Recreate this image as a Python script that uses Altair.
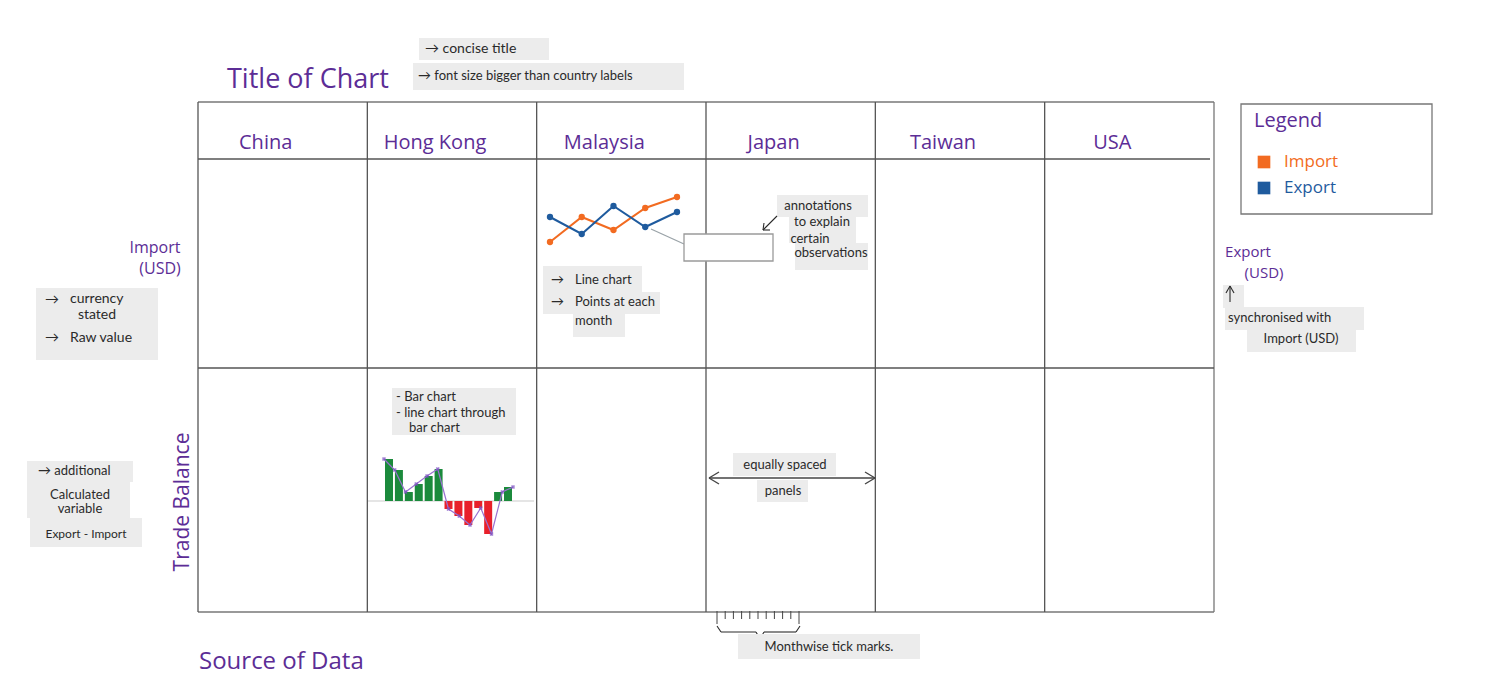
import altair as alt
import pandas as pd

# ---------------- data ----------------
COUNTRIES = ["China", "Hong Kong", "Malaysia", "Japan", "Taiwan", "USA"]
SERIES = ["Import", "Export"]
SERIES_COLORS = ["#f26b21", "#1f5b9e"]

MY_MONTHS = [1, 2, 3, 4, 5]
MY_IMPORT = [8, 33, 20, 42, 53]
MY_EXPORT = [33, 16, 44, 23, 38]

HK_MONTHS = list(range(1, 14))
HK_BALANCE = [42, 31, 9, 17, 25, 32, -8, -15, -24, -7, -33, 9, 14]

TICK_MONTHS = list(range(1, 12))

# ---------------- styles ----------------
PURPLE = "#5c2d96"
INK = "#2a2a2a"
NOTE_BG = "#ececec"
GRID = "#555555"
HAND = "Open Sans"
NOTE_FONT = "Lato"

layers = []


def box(x1, y1, x2, y2, fill=NOTE_BG, stroke=None):
    kw = dict(fill=fill)
    if stroke:
        kw.update(stroke=stroke, strokeWidth=1.3)
    return alt.Chart().mark_rect(**kw).encode(
        x=alt.value(x1), x2=alt.value(x2), y=alt.value(y1), y2=alt.value(y2))


def seg(x1, y1, x2, y2, color=GRID, w=1.3):
    return alt.Chart().mark_rule(color=color, strokeWidth=w).encode(
        x=alt.value(x1), x2=alt.value(x2), y=alt.value(y1), y2=alt.value(y2))


def label(s, x, y, size=13, color=INK, align="left", font=NOTE_FONT, angle=None):
    kw = dict(align=align, baseline="middle", fontSize=size, color=color, font=font)
    if angle is not None:
        kw["angle"] = angle
    return alt.Chart().mark_text(**kw).encode(
        x=alt.value(x), y=alt.value(y), text=alt.value(s))


# ---------------- grid ----------------
band = alt.Scale(type="band", domain=COUNTRIES, range=[198, 1214],
                 paddingInner=0, paddingOuter=0)
cdf = pd.DataFrame({"country": COUNTRIES})

layers += [
    seg(198, 102, 1214, 102, color="#777777"),
    seg(198, 612, 1214, 612, color="#777777"),
    seg(1214, 102, 1214, 612, color="#777777"),
    seg(198, 159, 1210, 159),
    seg(198, 368, 1214, 368),
    alt.Chart(cdf).mark_rule(color=GRID, strokeWidth=1.3).encode(
        x=alt.X("country:N", scale=band, axis=None, bandPosition=0),
        y=alt.value(102), y2=alt.value(612)),
    alt.Chart(cdf).mark_text(font=HAND, fontSize=20, color=PURPLE, dx=-17,
                             baseline="middle").encode(
        x=alt.X("country:N", scale=band, axis=None),
        y=alt.value(143), text="country:N"),
]

# ---------------- title / source ----------------
layers += [
    label("Title of Chart", 227, 80, size=27, color=PURPLE, font=HAND),
    label("Source of Data", 199, 662, size=24, color=PURPLE, font=HAND),
    box(419, 38, 549, 60), label("→  concise title", 425, 49, size=14),
    box(413, 63, 684, 90), label("→ font size bigger than country labels", 418, 76, size=13),
]

# ---------------- row labels ----------------
layers += [
    label("Import", 155, 248, size=16, color=PURPLE, font=HAND, align="center"),
    label("(USD)", 160, 269, size=16, color=PURPLE, font=HAND, align="center"),
    label("Trade Balance", 183, 502, size=21, color=PURPLE, font=HAND,
          align="center", angle=270),
    label("Export", 1248, 252, size=15, color=PURPLE, font=HAND, align="center"),
    label("(USD)", 1264, 273, size=15, color=PURPLE, font=HAND, align="center"),
]

# left notes
layers += [
    box(36, 288, 158, 360),
    label("→", 45, 300, size=14), label("currency", 70, 299, size=14),
    label("stated", 97, 315, size=14, align="center"),
    label("→", 45, 338, size=14), label("Raw value", 70, 338, size=14),
    box(27, 461, 133, 482), box(27, 482, 130, 518), box(30, 518, 142, 547),
    label("→ additional", 38, 471, size=13),
    label("Calculated", 80, 495, size=13, align="center"),
    label("variable", 80, 509, size=13, align="center"),
    label("Export - Import", 86, 534, size=12, align="center"),
]

# right notes
layers += [
    box(1223, 285, 1244, 308), box(1225, 307, 1364, 330), box(1247, 330, 1356, 352),
    seg(1230, 302, 1230, 286, color=INK, w=1.1),
    seg(1230, 286, 1226, 293, color=INK, w=1.1),
    seg(1230, 286, 1234, 293, color=INK, w=1.1),
    label("synchronised with", 1228, 318, size=13),
    label("Import (USD)", 1301, 339, size=13, align="center"),
]

# ---------------- legend ----------------
sdf = pd.DataFrame({"flow": SERIES})
ly = alt.Scale(type="point", domain=SERIES, range=[162, 188], padding=0)
lc = alt.Scale(domain=SERIES, range=SERIES_COLORS)
layers += [
    box(1241, 104, 1432, 214, fill="white", stroke="#777777"),
    label("Legend", 1254, 121, size=20, color=PURPLE, font=HAND),
    alt.Chart(sdf).mark_square(size=160, opacity=1).encode(
        x=alt.value(1264),
        y=alt.Y("flow:N", scale=ly, axis=None),
        color=alt.Color("flow:N", scale=lc, legend=None)),
    alt.Chart(sdf).mark_text(align="left", baseline="middle", fontSize=17, font=HAND).encode(
        x=alt.value(1284),
        y=alt.Y("flow:N", scale=ly, axis=None),
        text="flow:N",
        color=alt.Color("flow:N", scale=lc, legend=None)),
]

# ---------------- Malaysia: import / export line chart ----------------
my = pd.DataFrame({
    "month": MY_MONTHS * 2,
    "flow": ["Import"] * len(MY_MONTHS) + ["Export"] * len(MY_MONTHS),
    "usd": MY_IMPORT + MY_EXPORT,
})
mx = alt.Scale(domain=[1, 5], range=[550, 677], nice=False, zero=False)
myy = alt.Scale(domain=[0, 60], range=[250, 190], nice=False, zero=False)
mc = alt.Scale(domain=SERIES, range=SERIES_COLORS)
menc = dict(
    x=alt.X("month:Q", scale=mx, axis=None),
    y=alt.Y("usd:Q", scale=myy, axis=None),
    color=alt.Color("flow:N", scale=mc, legend=None),
)
layers += [
    alt.Chart(my).mark_line(strokeWidth=2).encode(**menc),
    alt.Chart(my).mark_circle(size=40, opacity=1).encode(**menc),
    # annotation callout
    seg(651, 229, 684, 244, color="#9aa3a8", w=1.3),
    box(684, 234, 773, 261, fill="white", stroke="#9a9a9a"),
    box(777, 195, 868, 217), box(789, 217, 856, 243), box(795, 243, 868, 270),
    label("annotations", 818, 206, size=13, align="center"),
    label("to explain", 822, 222, size=13, align="center"),
    label("certain", 810, 239, size=13, align="center"),
    label("observations", 831, 253, size=13, align="center"),
    seg(777, 216, 763, 230, color=INK, w=1.1),
    seg(763, 230, 764, 223, color=INK, w=1.1),
    seg(763, 230, 770, 230, color=INK, w=1.1),
    # notes
    box(543, 266, 642, 292), box(543, 292, 660, 314), box(573, 314, 625, 337),
    label("→", 551, 280, size=13), label("Line chart", 575, 280, size=13),
    label("→", 551, 302, size=13), label("Points at each", 575, 302, size=13),
    label("month", 575, 321, size=13),
]

# ---------------- Hong Kong: trade balance bars ----------------
hk = pd.DataFrame({"month": HK_MONTHS, "balance": HK_BALANCE})
hx = alt.Scale(domain=[1, 13], range=[384, 513], nice=False, zero=False)
hy = alt.Scale(domain=[-40, 45], range=[541, 456], nice=False, zero=False)
layers += [
    seg(368, 501, 534, 501, color="#dddddd", w=1.5),
    alt.Chart(hk).mark_bar(size=8).encode(
        x=alt.X("month:Q", scale=hx, axis=None),
        y=alt.Y("balance:Q", scale=hy, axis=None),
        color=alt.condition(alt.datum.balance > 0, alt.value("#1b8a3c"),
                            alt.value("#e8202a"))),
    alt.Chart(hk).mark_line(color="#9a72d0", strokeWidth=1.2).encode(
        x=alt.X("month:Q", scale=hx, axis=None),
        y=alt.Y("balance:Q", scale=hy, axis=None)),
    alt.Chart(hk).mark_point(shape="cross", angle=45, size=18, color="#7b4fc0",
                             filled=True).encode(
        x=alt.X("month:Q", scale=hx, axis=None),
        y=alt.Y("balance:Q", scale=hy, axis=None)),
    box(392, 388, 516, 435),
    label("-  Bar chart", 396, 397, size=13),
    label("-  line chart through", 396, 413, size=13),
    label("bar chart", 409, 428, size=13),
]

# ---------------- Japan: equal spacing note ----------------
layers += [
    box(733, 453, 836, 476), box(757, 480, 808, 502),
    seg(709, 478, 875, 478, color="#444444", w=1.4),
    seg(709, 478, 719, 472, color="#444444", w=1.4),
    seg(709, 478, 719, 484, color="#444444", w=1.4),
    seg(875, 478, 865, 472, color="#444444", w=1.4),
    seg(875, 478, 865, 484, color="#444444", w=1.4),
    label("equally spaced", 785, 465, size=13, align="center"),
    label("panels", 783, 491, size=13, align="center"),
]

# ---------------- monthwise ticks ----------------
tdf = pd.DataFrame({"month": TICK_MONTHS})
tx = alt.Scale(domain=[1, 11], range=[717, 799], nice=False, zero=False)
layers += [
    alt.Chart(tdf).mark_rule(color="#444444", strokeWidth=1).encode(
        x=alt.X("month:Q", scale=tx, axis=None),
        y=alt.value(611), y2=alt.value(619)),
    seg(717, 619, 717, 624, color="#444444", w=1),
    seg(799, 619, 799, 624, color="#444444", w=1),
    # brace
    seg(717, 626, 721, 632, color=INK, w=1.1),
    seg(721, 632, 756, 632, color=INK, w=1.1),
    seg(756, 632, 760, 639, color=INK, w=1.1),
    seg(760, 639, 764, 632, color=INK, w=1.1),
    seg(764, 632, 796, 632, color=INK, w=1.1),
    seg(796, 632, 800, 626, color=INK, w=1.1),
    box(738, 634, 920, 659),
    label("Monthwise  tick marks.", 829, 647, size=13, align="center"),
]

chart = (
    alt.layer(*layers)
    .properties(width=1502, height=691, padding=0,
                autosize=alt.AutoSizeParams(type="none"))
    .resolve_scale(x="independent", y="independent", color="independent")
    .configure_view(stroke=None)
)

chart.save("out.html", embed_options={"renderer": "svg", "actions": False})
